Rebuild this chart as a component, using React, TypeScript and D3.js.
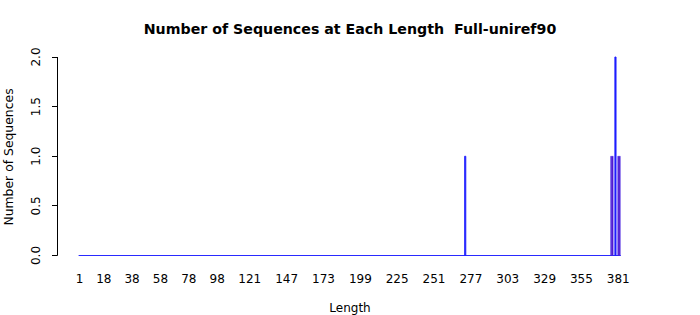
import React from "react";
import * as d3 from "d3";

const firstLength = 1;
const lastLength = 382;
const peakLengths = [273, 376, 377, 379, 381, 382];
const peakCounts = [1, 1, 1, 2, 1, 1];
const tickLabels = [1, 18, 38, 58, 78, 98, 121, 147, 173, 199, 225, 251, 277, 303, 329, 355, 381];
const yTicks = [0, 0.5, 1, 1.5, 2];

const W = 700;
const H = 315;
const FONT = "DejaVu Sans, Liberation Sans, sans-serif";

export default function App() {
  const lengths = d3.range(firstLength, lastLength + 1);
  const countMap = new Map<number, number>();
  peakLengths.forEach((l, i) => countMap.set(l, peakCounts[i]));
  const counts = lengths.map((l) => countMap.get(l) ?? 0);

  const x = d3
    .scaleBand<number>()
    .domain(lengths)
    .range([79.1, 620.3])
    .paddingInner(1 / 6)
    .paddingOuter(0);
  const y = d3.scaleLinear().domain([0, 2]).range([255.5, 57]);
  const bw = x.bandwidth();

  const inRun = (i: number) =>
    counts[i] > 0 && ((i > 0 && counts[i - 1] > 0) || (i < counts.length - 1 && counts[i + 1] > 0));

  const x0All = x(firstLength)!;
  const x1All = x(lastLength)! + bw;

  return (
    <svg width={W} height={H} style={{ display: "block", position: "absolute", left: 0, top: 0 }} fontFamily={FONT}>
      <rect width={W} height={H} fill="white" />
      <text x={350} y={34} textAnchor="middle" fontWeight="bold" fontSize={14.2} style={{ whiteSpace: "pre" }}>
        {"Number of Sequences at Each Length  Full-uniref90"}
      </text>
      {/* zero baseline from zero-height bars */}
      <line x1={x0All - 0.5} x2={x1All + 0.5} y1={y(0)} y2={y(0)} stroke="#2a2aff" strokeWidth={1} />
      {/* bars */}
      <g>
        {lengths.map((l, i) => {
          if (counts[i] === 0) return null;
          const x0 = x(l)!;
          const x1 = x0 + bw;
          const y0 = y(0);
          const y1 = y(counts[i]);
          const run = inRun(i);
          return (
            <path
              key={l}
              d={`M${x0},${y0}V${y1}H${x1}V${y0}Z`}
              fill={run ? "#5a0cc0" : "#1a1aff"}
              stroke={run ? "#3a2af0" : "#2020ff"}
              strokeWidth={run ? 0.4 : 0.9}
            />
          );
        })}
      </g>
      {/* y axis */}
      <g>
        <line x1={57.5} x2={57.5} y1={y(0)} y2={y(2)} stroke="black" />
        {yTicks.map((t) => (
          <g key={t}>
            <line x1={52} x2={57.5} y1={Math.round(y(t) - 0.5) + 0.5} y2={Math.round(y(t) - 0.5) + 0.5} stroke="black" />
            <text
              transform={`translate(40,${y(t)}) rotate(-90)`}
              textAnchor="middle"
              fontSize={12}
            >
              {t.toFixed(1)}
            </text>
          </g>
        ))}
      </g>
      {/* x labels */}
      <g>
        {tickLabels.map((t) => (
          <text key={t} x={x(t)! + bw / 2} y={283} textAnchor="middle" fontSize={12}>
            {t}
          </text>
        ))}
      </g>
      <text x={350} y={312} textAnchor="middle" fontSize={12}>
        Length
      </text>
      <text transform={`translate(13,157) rotate(-90)`} textAnchor="middle" fontSize={12.4}>
        Number of Sequences
      </text>
    </svg>
  );
}
